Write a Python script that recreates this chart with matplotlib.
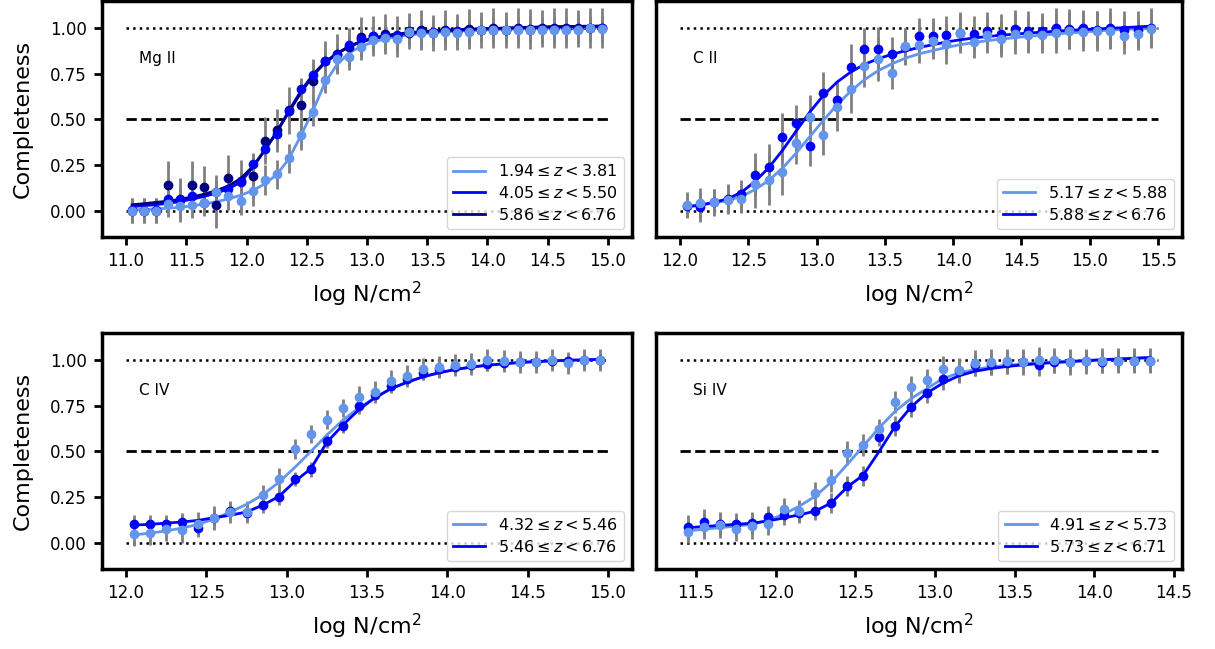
import numpy as np
import matplotlib
matplotlib.use("Agg")
import matplotlib.pyplot as plt

# ---------------- data ----------------
# Mg II
mg_x = [11.05, 11.15, 11.25, 11.35, 11.45, 11.55, 11.65, 11.75, 11.85, 11.95,
        12.05, 12.15, 12.25, 12.35, 12.45, 12.55, 12.65, 12.75, 12.85, 12.95,
        13.05, 13.15, 13.25, 13.35, 13.45, 13.55, 13.65, 13.75, 13.85, 13.95,
        14.05, 14.15, 14.25, 14.35, 14.45, 14.55, 14.65, 14.75, 14.85, 14.95]
mg_y1 = [0.0, 0.0, 0.0, 0.036, 0.025, 0.031, 0.04, 0.104, 0.082, 0.055,
         0.106, 0.168, 0.2, 0.288, 0.415, 0.543, 0.714, 0.834, 0.842, 0.896,
         0.938, 0.947, 0.941, 0.978, 0.974, 0.974, 0.98, 0.974, 0.98, 0.993,
         0.989, 0.989, 0.989, 0.993, 0.989, 0.989, 0.989, 0.989, 1.0, 0.996]
mg_y2 = [0.004, 0.0, 0.004, 0.064, 0.064, 0.082, 0.04, 0.10, 0.118, 0.158,
         0.255, 0.34, 0.418, 0.546, 0.665, 0.746, 0.823, 0.856, 0.911, 0.941,
         0.956, 0.96, 0.965, 0.975, 0.978, 0.98, 0.985, 0.983, 0.988, 0.99,
         0.992, 0.99, 0.995, 0.993, 0.995, 0.997, 0.995, 0.998, 1.0, 1.0]
mg_y3 = [0.0, 0.0, 0.0, 0.142, 0.06, 0.142, 0.127, 0.033, 0.177, 0.16,
         0.188, 0.383, 0.44, 0.55, 0.58, 0.71, 0.82, 0.86, 0.9, 0.95,
         0.96, 0.97, 0.955, 0.985, 0.99, 0.975, 0.99, 0.98, 0.995, 0.99,
         1.0, 0.99, 1.0, 0.995, 1.0, 1.0, 1.0, 1.0, 1.0, 1.0]
mg_f1 = [0.004, 0.006, 0.009, 0.013, 0.018, 0.026, 0.036, 0.049, 0.064, 0.084,
         0.109, 0.146, 0.197, 0.282, 0.41, 0.546, 0.70, 0.80, 0.865, 0.90,
         0.925, 0.942, 0.955, 0.964, 0.971, 0.977, 0.981, 0.985, 0.988, 0.991,
         0.993, 0.995, 0.997, 0.999, 1.0, 1.002, 1.003, 1.004, 1.005, 1.006]
mg_f2 = [0.022, 0.027, 0.033, 0.04, 0.05, 0.063, 0.078, 0.096, 0.12, 0.155,
         0.235, 0.33, 0.43, 0.545, 0.655, 0.745, 0.815, 0.862, 0.9, 0.925,
         0.943, 0.956, 0.965, 0.972, 0.978, 0.983, 0.987, 0.99, 0.993, 0.996,
         0.998, 1.0, 1.002, 1.004, 1.006, 1.007, 1.008, 1.009, 1.01, 1.011]
mg_f3 = [0.032, 0.038, 0.045, 0.052, 0.062, 0.075, 0.09, 0.11, 0.135, 0.175,
         0.24, 0.33, 0.43, 0.54, 0.645, 0.74, 0.81, 0.86, 0.9, 0.928,
         0.947, 0.96, 0.969, 0.976, 0.982, 0.986, 0.99, 0.993, 0.996, 0.998,
         1.0, 1.002, 1.004, 1.006, 1.008, 1.009, 1.01, 1.011, 1.012, 1.013]
mg_e1 = [0.068, 0.068, 0.068, 0.07, 0.07, 0.07, 0.07, 0.09, 0.08, 0.08,
         0.08, 0.08, 0.08, 0.08, 0.08, 0.08, 0.07, 0.07, 0.07, 0.07,
         0.07, 0.07, 0.07, 0.07, 0.07, 0.07, 0.07, 0.07, 0.07, 0.07,
         0.07, 0.07, 0.07, 0.07, 0.07, 0.07, 0.07, 0.07, 0.07, 0.07]
mg_e2 = [0.06, 0.06, 0.06, 0.065, 0.065, 0.065, 0.06, 0.06, 0.06, 0.06,
         0.06, 0.06, 0.06, 0.06, 0.06, 0.06, 0.06, 0.06, 0.06, 0.06,
         0.05, 0.05, 0.05, 0.05, 0.05, 0.05, 0.05, 0.05, 0.05, 0.05,
         0.05, 0.05, 0.05, 0.05, 0.05, 0.05, 0.05, 0.05, 0.05, 0.05]
mg_e3 = [0.068, 0.068, 0.068, 0.13, 0.12, 0.13, 0.12, 0.13, 0.13, 0.12,
         0.12, 0.13, 0.12, 0.13, 0.13, 0.12, 0.11, 0.11, 0.1, 0.11,
         0.11, 0.11, 0.11, 0.1, 0.11, 0.1, 0.11, 0.1, 0.11, 0.1,
         0.11, 0.1, 0.11, 0.11, 0.1, 0.11, 0.11, 0.1, 0.11, 0.11]

# C II
c2_x = [12.05, 12.15, 12.25, 12.35, 12.45, 12.55, 12.65, 12.75, 12.85, 12.95,
        13.05, 13.15, 13.25, 13.35, 13.45, 13.55, 13.65, 13.75, 13.85, 13.95,
        14.05, 14.15, 14.25, 14.35, 14.45, 14.55, 14.65, 14.75, 14.85, 14.95,
        15.05, 15.15, 15.25, 15.35, 15.45]
c2_y1 = [0.031, 0.042, 0.046, 0.06, 0.064, 0.146, 0.169, 0.213, 0.373, 0.514,
         0.415, 0.568, 0.668, 0.796, 0.829, 0.756, 0.902, 0.911, 0.933, 0.914,
         0.974, 0.925, 0.962, 0.942, 0.971, 0.962, 0.962, 0.974, 0.987, 0.978,
         0.984, 0.984, 0.96, 0.969, 0.996]
c2_y2 = [0.027, 0.018, 0.046, 0.064, 0.09, 0.197, 0.237, 0.406, 0.479, 0.355,
         0.643, 0.607, 0.788, 0.887, 0.887, 0.861, 0.9, 0.958, 0.958, 0.965,
         0.977, 0.97, 0.987, 0.97, 0.998, 0.984, 0.984, 1.0, 0.998, 1.0,
         0.993, 1.0, 0.993, 0.993, 1.0]
c2_f1 = [0.025, 0.032, 0.042, 0.055, 0.078, 0.115, 0.165, 0.232, 0.315, 0.405,
         0.495, 0.58, 0.655, 0.718, 0.767, 0.805, 0.836, 0.86, 0.878, 0.895,
         0.91, 0.922, 0.932, 0.941, 0.949, 0.956, 0.963, 0.969, 0.975, 0.98,
         0.985, 0.99, 0.994, 0.998, 1.002]
c2_f2 = [0.02, 0.03, 0.045, 0.065, 0.1, 0.16, 0.235, 0.33, 0.435, 0.54,
         0.632, 0.705, 0.76, 0.802, 0.833, 0.857, 0.877, 0.895, 0.91, 0.925,
         0.937, 0.947, 0.955, 0.962, 0.968, 0.974, 0.979, 0.984, 0.989, 0.993,
         0.997, 1.0, 1.004, 1.008, 1.012]
c2_e1 = [0.07, 0.08, 0.075, 0.08, 0.08, 0.13, 0.14, 0.13, 0.12, 0.12,
         0.11, 0.13, 0.13, 0.12, 0.12, 0.09, 0.1, 0.1, 0.1, 0.11,
         0.1, 0.09, 0.1, 0.1, 0.11, 0.1, 0.1, 0.11, 0.1, 0.1,
         0.11, 0.1, 0.1, 0.09, 0.1]
c2_e2 = [0.06, 0.08, 0.07, 0.08, 0.08, 0.12, 0.13, 0.13, 0.10, 0.11,
         0.12, 0.10, 0.125, 0.115, 0.12, 0.09, 0.1, 0.1, 0.1, 0.1,
         0.11, 0.1, 0.1, 0.11, 0.1, 0.11, 0.1, 0.11, 0.11, 0.1,
         0.1, 0.11, 0.1, 0.1, 0.11]

# C IV
c4_x = [12.05, 12.15, 12.25, 12.35, 12.45, 12.55, 12.65, 12.75, 12.85, 12.95,
        13.05, 13.15, 13.25, 13.35, 13.45, 13.55, 13.65, 13.75, 13.85, 13.95,
        14.05, 14.15, 14.25, 14.35, 14.45, 14.55, 14.65, 14.75, 14.85, 14.95]
c4_y1 = [0.049, 0.055, 0.073, 0.067, 0.104, 0.133, 0.17, 0.166, 0.261, 0.35,
         0.514, 0.597, 0.675, 0.739, 0.797, 0.824, 0.885, 0.912, 0.954, 0.963,
         0.976, 0.98, 1.0, 0.994, 0.989, 0.991, 1.0, 0.985, 1.0, 1.0]
c4_y2 = [0.1, 0.104, 0.104, 0.113, 0.082, 0.137, 0.174, 0.164, 0.205, 0.252,
         0.35, 0.401, 0.56, 0.642, 0.748, 0.81, 0.86, 0.9, 0.93, 0.95,
         0.965, 0.975, 0.98, 0.985, 0.99, 0.99, 0.995, 0.995, 1.0, 1.0]
c4_f1 = [0.042, 0.052, 0.064, 0.08, 0.1, 0.13, 0.168, 0.21, 0.262, 0.33,
         0.412, 0.5, 0.59, 0.672, 0.74, 0.795, 0.845, 0.88, 0.91, 0.932,
         0.95, 0.963, 0.973, 0.981, 0.988, 0.993, 0.997, 1.0, 1.003, 1.005]
c4_f2 = [0.096, 0.1, 0.107, 0.113, 0.122, 0.137, 0.15, 0.168, 0.205, 0.252,
         0.335, 0.405, 0.55, 0.645, 0.73, 0.795, 0.845, 0.88, 0.91, 0.932,
         0.95, 0.963, 0.973, 0.981, 0.988, 0.993, 0.997, 1.0, 1.003, 1.005]
c4_e1 = [0.068, 0.07, 0.065, 0.07, 0.065, 0.065, 0.06, 0.06, 0.055, 0.06,
         0.055, 0.05, 0.05, 0.05, 0.06, 0.06, 0.06, 0.06, 0.06, 0.06,
         0.06, 0.06, 0.06, 0.06, 0.06, 0.06, 0.06, 0.06, 0.06, 0.06]
c4_e2 = [0.05, 0.05, 0.05, 0.05, 0.05, 0.045, 0.045, 0.045, 0.04, 0.045,
         0.04, 0.04, 0.04, 0.04, 0.04, 0.04, 0.04, 0.04, 0.04, 0.04,
         0.04, 0.04, 0.04, 0.04, 0.04, 0.04, 0.04, 0.04, 0.04, 0.04]

# Si IV
s4_x = [11.45, 11.55, 11.65, 11.75, 11.85, 11.95, 12.05, 12.15, 12.25, 12.35,
        12.45, 12.55, 12.65, 12.75, 12.85, 12.95, 13.05, 13.15, 13.25, 13.35,
        13.45, 13.55, 13.65, 13.75, 13.85, 13.95, 14.05, 14.15, 14.25, 14.35]
s4_y1 = [0.06, 0.087, 0.096, 0.076, 0.091, 0.104, 0.182, 0.173, 0.27, 0.341,
         0.492, 0.534, 0.625, 0.771, 0.852, 0.894, 0.952, 0.945, 0.985, 0.991,
         0.994, 0.991, 1.003, 1.0, 0.991, 0.994, 0.998, 0.998, 0.998, 0.998]
s4_y2 = [0.085, 0.113, 0.1, 0.1, 0.11, 0.141, 0.152, 0.165, 0.173, 0.218,
         0.31, 0.365, 0.58, 0.642, 0.744, 0.821, 0.897, 0.939, 0.976, 0.981,
         0.985, 0.989, 0.975, 0.99, 0.99, 0.995, 0.99, 0.995, 0.995, 0.995]
s4_f1 = [0.064, 0.073, 0.082, 0.09, 0.1, 0.122, 0.155, 0.2, 0.255, 0.332,
         0.429, 0.529, 0.63, 0.72, 0.79, 0.845, 0.9, 0.93, 0.95, 0.963,
         0.973, 0.98, 0.986, 0.991, 0.996, 1.0, 1.004, 1.008, 1.012, 1.016]
s4_f2 = [0.082, 0.088, 0.094, 0.1, 0.106, 0.118, 0.135, 0.152, 0.173, 0.218,
         0.305, 0.37, 0.5, 0.638, 0.744, 0.821, 0.875, 0.915, 0.94, 0.955,
         0.966, 0.975, 0.982, 0.988, 0.993, 0.998, 1.003, 1.007, 1.011, 1.015]
s4_e1 = [0.06, 0.07, 0.07, 0.07, 0.07, 0.065, 0.06, 0.06, 0.06, 0.065,
         0.065, 0.06, 0.055, 0.06, 0.06, 0.06, 0.07, 0.07, 0.07, 0.07,
         0.07, 0.07, 0.07, 0.07, 0.07, 0.07, 0.07, 0.07, 0.07, 0.07]
s4_e2 = [0.065, 0.07, 0.06, 0.06, 0.06, 0.06, 0.055, 0.055, 0.05, 0.055,
         0.055, 0.055, 0.05, 0.055, 0.055, 0.055, 0.06, 0.06, 0.06, 0.06,
         0.06, 0.06, 0.06, 0.06, 0.06, 0.06, 0.06, 0.06, 0.06, 0.06]

ions = ["Mg II", "C II", "C IV", "Si IV"]
mg_labels = [r"$1.94 \leq z < 3.81$", r"$4.05 \leq z < 5.50$", r"$5.86 \leq z < 6.76$"]
c2_labels = [r"$5.17 \leq z < 5.88$", r"$5.88 \leq z < 6.76$"]
c4_labels = [r"$4.32 \leq z < 5.46$", r"$5.46 \leq z < 6.76$"]
s4_labels = [r"$4.91 \leq z < 5.73$", r"$5.73 \leq z < 6.71$"]
edges = [(11.0, 15.0), (12.0, 15.5), (12.0, 15.0), (11.4, 14.4)]
xticks = [np.arange(11.0, 15.01, 0.5), np.arange(12.0, 15.51, 0.5),
          np.arange(12.0, 15.01, 0.5), np.arange(11.5, 14.51, 0.5)]

colors = ["cornflowerblue", "blue", "navy"]

panels = [
    (mg_x, [mg_y1, mg_y2, mg_y3], [mg_f1, mg_f2, mg_f3], [mg_e1, mg_e2, mg_e3], mg_labels),
    (c2_x, [c2_y1, c2_y2], [c2_f1, c2_f2], [c2_e1, c2_e2], c2_labels),
    (c4_x, [c4_y1, c4_y2], [c4_f1, c4_f2], [c4_e1, c4_e2], c4_labels),
    (s4_x, [s4_y1, s4_y2], [s4_f1, s4_f2], [s4_e1, s4_e2], s4_labels),
]

W, H = 1215, 649
fig = plt.figure(figsize=(W / 100, H / 100), dpi=100)
boxes = [(102, 1, 632, 237), (656, 1, 1182, 237), (102, 333, 632, 569), (656, 333, 1182, 569)]

for i, (x, ys, fs, es, labs) in enumerate(panels):
    l, t, r, b = boxes[i]
    ax = fig.add_axes([l / W, 1 - b / H, (r - l) / W, (b - t) / H])
    n = len(ys)
    #error bars underneath everything
    for k in range(n):
        ax.errorbar(x, ys[k], yerr=es[k], fmt="none", ecolor="gray", elinewidth=2, zorder=1)
    for k in range(n):
        ax.plot(x, fs[k], color=colors[k], lw=2, label=labs[k], zorder=2)
    for k in reversed(range(n)):
        ax.plot(x, ys[k], "o", color=colors[k], ms=6, zorder=3 + (n - k))

    x0, x1 = edges[i]
    ax.hlines([0, 1], x0, x1, colors="k", linestyles=":", lw=1.8, zorder=0)
    ax.hlines(0.5, x0, x1, colors="k", linestyles="--", lw=2, zorder=0)

    pad = 0.05 * (x1 - x0)
    ax.set_xlim(x0 - pad, x1 + pad)
    ax.set_ylim(-0.145, 1.15)
    ax.set_xticks(xticks[i])
    ax.set_xticklabels(["%.1f" % v for v in xticks[i]], fontsize=12)
    if i % 2 == 0:
        ax.set_yticks([0, 0.25, 0.5, 0.75, 1.0])
        ax.set_yticklabels(["0.00", "0.25", "0.50", "0.75", "1.00"], fontsize=12)
        ax.set_ylabel("Completeness", fontsize=16, labelpad=12)
    else:
        ax.set_yticks([])
    ax.set_xlabel("log N/cm$^2$", fontsize=16, labelpad=7)
    for s in ax.spines.values():
        s.set_linewidth(2.5)
    ax.tick_params(width=2, length=6, pad=5)
    ax.text(0.07, 0.755, ions[i], transform=ax.transAxes, fontsize=11, va="center")
    ax.legend(loc="lower right", fontsize=11.5, labelspacing=0.35)

fig.savefig("out.png", dpi=100)
